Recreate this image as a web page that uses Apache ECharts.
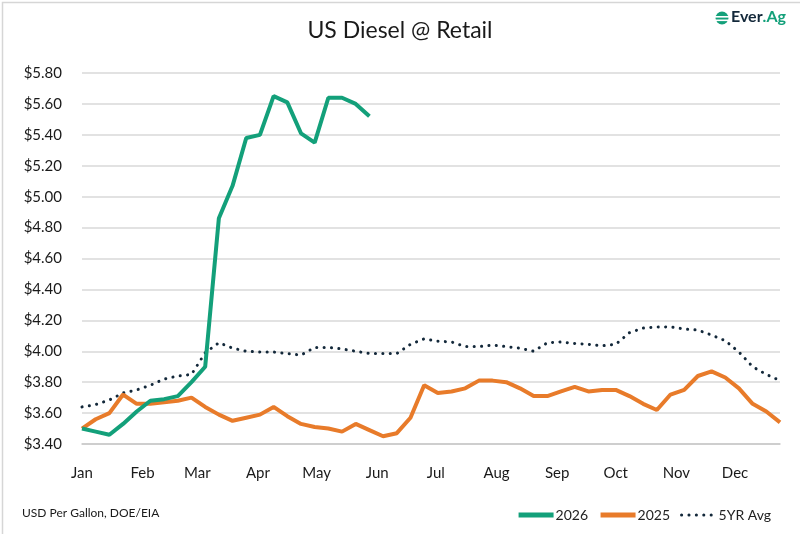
<!DOCTYPE html>
<html>
<head>
    <meta charset="UTF-8">
    <title>US Diesel @ Retail</title>
    <script src="https://cdn.jsdelivr.net/npm/echarts@6/dist/echarts.min.js"></script>
    <style>
        html, body { margin: 0; padding: 0; background: #fff; }
        #chart { width: 800px; height: 534px; }
    </style>
</head>
<body>
<div id="chart"></div>
<script>
    // 月份标签和每月第一天（距1月1日的天数）
    var months = ['Jan', 'Feb', 'Mar', 'Apr', 'May', 'Jun', 'Jul', 'Aug', 'Sep', 'Oct', 'Nov', 'Dec'];
    var monthStartDays = [0, 31, 59, 90, 120, 151, 181, 212, 243, 273, 304, 334];
    var lastDay = 357;   // 第52周
    var weekStep = 7;

    // 每周价格 USD/gal
    var diesel2026 = [3.50, 3.48, 3.46, 3.53, 3.61, 3.68, 3.69, 3.71, 3.80, 3.90,
        4.86, 5.07, 5.38, 5.40, 5.65, 5.61, 5.41, 5.35, 5.64, 5.64, 5.60, 5.52];
    var diesel2025 = [3.50, 3.56, 3.60, 3.72, 3.66, 3.66, 3.67, 3.68, 3.70, 3.64,
        3.59, 3.55, 3.57, 3.59, 3.64, 3.58, 3.53, 3.51, 3.50, 3.48,
        3.53, 3.49, 3.45, 3.47, 3.57, 3.78, 3.73, 3.74, 3.76, 3.81,
        3.81, 3.80, 3.76, 3.71, 3.71, 3.74, 3.77, 3.74, 3.75, 3.75,
        3.71, 3.66, 3.62, 3.72, 3.75, 3.84, 3.87, 3.83, 3.76, 3.66,
        3.61, 3.54];
    var avg5yr = [3.64, 3.655, 3.685, 3.73, 3.75, 3.78, 3.82, 3.84, 3.85, 3.99,
        4.055, 4.02, 4.00, 3.995, 3.995, 3.985, 3.975, 4.025, 4.025, 4.015,
        4.00, 3.985, 3.985, 3.985, 4.045, 4.08, 4.065, 4.06, 4.03, 4.03,
        4.04, 4.03, 4.02, 4.00, 4.055, 4.06, 4.05, 4.045, 4.035, 4.045,
        4.12, 4.15, 4.157, 4.158, 4.144, 4.137, 4.105, 4.068, 3.995, 3.90,
        3.85, 3.81];

    // y轴刻度
    var yMin = 3.40, yMax = 5.80, yStep = 0.20;

    var days = [];
    for (var d = 0; d <= lastDay; d++) days.push(String(d));

    function toWeekly(arr) {
        return arr.map(function (v, i) { return [i * weekStep, v]; });
    }

    var fontFam = 'Lato, "Noto Sans", sans-serif';
    var myChart = echarts.init(document.getElementById('chart'));

    var option = {
        backgroundColor: '#fff',
        animation: false,
        title: {
            text: 'US Diesel @ Retail',
            left: 'center',
            top: 14,
            textStyle: { fontFamily: fontFam, fontSize: 23, fontWeight: 'normal', color: '#1a1a1a' }
        },
        grid: { left: 82, right: 20, top: 73, bottom: 90, containLabel: false },
        legend: {
            right: 24,
            top: 503,
            itemWidth: 35,
            itemHeight: 12,
            itemGap: 10,
            itemStyle: { opacity: 0 },
            textStyle: { fontFamily: fontFam, fontSize: 14, color: '#222', padding: [0, 0, 0, -3] },
            data: [
                { name: '2026', lineStyle: { width: 5 } },
                { name: '2025', lineStyle: { width: 5 } },
                { name: '5YR Avg', lineStyle: { width: 3 } }
            ]
        },
        xAxis: {
            type: 'category',
            data: days,
            boundaryGap: false,
            axisTick: { show: false },
            axisLine: { lineStyle: { color: '#c8c8c8', width: 1.5 } },
            axisLabel: {
                interval: function (index) { return monthStartDays.indexOf(index) >= 0; },
                formatter: function (v, i) { return months[monthStartDays.indexOf(Number(v))]; },
                margin: 22,
                fontFamily: fontFam,
                fontSize: 15,
                color: '#1a1a1a'
            },
            splitLine: { show: false }
        },
        yAxis: {
            type: 'value',
            min: yMin,
            max: yMax,
            interval: yStep,
            axisLine: { show: false },
            axisTick: { show: false },
            axisLabel: {
                formatter: function (v) { return '$' + v.toFixed(2); },
                margin: 20,
                fontFamily: fontFam,
                fontSize: 15,
                color: '#1a1a1a'
            },
            splitLine: { lineStyle: { color: '#d9d9d9', width: 1.5 } }
        },
        series: [
            {
                name: '2026',
                type: 'line',
                data: toWeekly(diesel2026),
                showSymbol: false,
                symbol: 'none',
                z: 4,
                lineStyle: { color: '#13a07a', width: 4 },
                itemStyle: { color: '#13a07a' }
            },
            {
                name: '2025',
                type: 'line',
                data: toWeekly(diesel2025),
                showSymbol: false,
                symbol: 'none',
                z: 3,
                lineStyle: { color: '#e87b2a', width: 4 },
                itemStyle: { color: '#e87b2a' }
            },
            {
                name: '5YR Avg',
                type: 'line',
                data: toWeekly(avg5yr),
                showSymbol: false,
                symbol: 'none',
                z: 2,
                lineStyle: { color: '#13283a', width: 3, type: [0.1, 7.3], cap: 'round' },
                itemStyle: { color: '#13283a' }
            }
        ],
        graphic: [
            {
                type: 'rect',
                left: 0, top: 0,
                shape: { width: 799, height: 533 },
                style: { fill: 'none', stroke: '#d6d6d6', lineWidth: 1.5 },
                silent: true
            },
            {
                type: 'text',
                left: 22,
                top: 507,
                style: { text: 'USD Per Gallon, DOE/EIA', fontFamily: fontFam, fontSize: 12, fill: '#1a1a1a' }
            },
            // logo
            {
                type: 'circle',
                shape: { cx: 722, cy: 18, r: 6.5 },
                style: { fill: '#13a07a' }
            },
            {
                type: 'rect',
                shape: { x: 715, y: 16, width: 14, height: 1.6 },
                style: { fill: '#fff' }
            },
            {
                type: 'rect',
                shape: { x: 715, y: 19.5, width: 14, height: 1.6 },
                style: { fill: '#fff' }
            },
            {
                type: 'text',
                left: 731,
                top: 9,
                style: {
                    text: '{a|Ever}{b|.Ag}',
                    rich: {
                        a: { fontFamily: fontFam, fontSize: 16, fontWeight: 'bold', fill: '#13283a' },
                        b: { fontFamily: fontFam, fontSize: 16, fontWeight: 'bold', fill: '#13a07a' }
                    }
                }
            }
        ]
    };

    if (option && typeof option === 'object') {
        myChart.setOption(option, true);
    }
</script>
</body>
</html>
